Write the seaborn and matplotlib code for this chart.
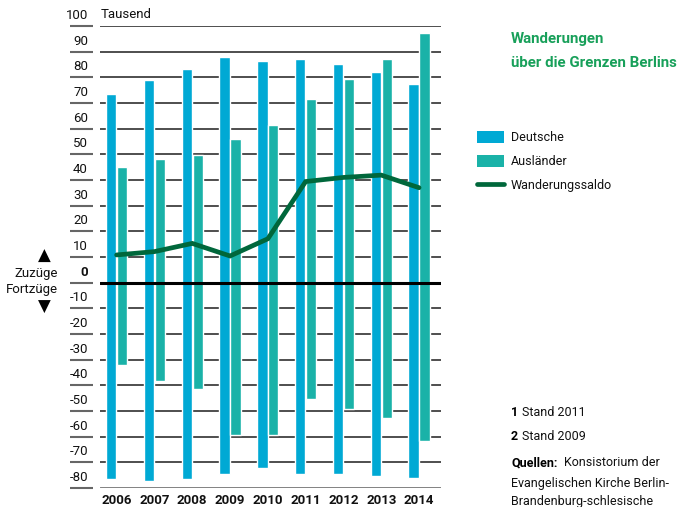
import seaborn as sns
import matplotlib.pyplot as plt
import matplotlib.transforms as mtransforms
from matplotlib.patches import Patch
from matplotlib.lines import Line2D
import numpy as np
import pandas as pd

years = ['2006', '2007', '2008', '2009', '2010', '2011', '2012', '2013', '2014']
zuzuege_deutsche = [73.4, 79.0, 83.2, 87.9, 86.4, 87.1, 85.2, 82.1, 77.4]
zuzuege_auslaender = [45.1, 48.2, 49.6, 56.0, 61.4, 71.6, 79.4, 87.1, 97.3]
fortzuege_deutsche = [-76.5, -77.3, -76.5, -74.5, -72.2, -74.5, -74.5, -75.3, -76.1]
fortzuege_auslaender = [-32.1, -38.3, -41.4, -59.4, -59.4, -45.3, -49.2, -52.7, -61.7]
saldo = [10.8, 12.1, 15.3, 10.4, 17.1, 39.4, 41.0, 41.9, 37.0]
yticks = [100, 90, 80, 70, 60, 50, 40, 30, 20, 10, 0, -10, -20, -30, -40, -50, -60, -70, -80]
series = ['Deutsche', 'Ausländer']

c_de = '#00a9d4'
c_aus = '#1ab2a8'
c_saldo = '#00673b'
c_title = '#18a05a'
c_text = '#111111'

df_pos = pd.DataFrame({'Jahr': years * 2,
                       'Gruppe': ['Deutsche'] * 9 + ['Ausländer'] * 9,
                       'Wert': zuzuege_deutsche + zuzuege_auslaender})
df_neg = pd.DataFrame({'Jahr': years * 2,
                       'Gruppe': ['Deutsche'] * 9 + ['Ausländer'] * 9,
                       'Wert': fortzuege_deutsche + fortzuege_auslaender})

sns.set_style('white')
plt.rcParams['font.family'] = ['Roboto', 'DejaVu Sans']
fs = 9

W, H = 679, 507
fig = plt.figure(figsize=(W / 100, H / 100), dpi=100)
ax = fig.add_axes([100 / W, (H - 488) / H, 341 / W, 462 / H])

def fx(x):
    return x / W

def fy(y):
    return 1 - y / H

pal = {'Deutsche': c_de, 'Ausländer': c_aus}
sns.barplot(data=df_pos, x='Jahr', y='Wert', hue='Gruppe', hue_order=series, order=years,
            palette=pal, width=0.58, gap=0.06, saturation=1, legend=False, ax=ax, zorder=2)
sns.barplot(data=df_neg, x='Jahr', y='Wert', hue='Gruppe', hue_order=series, order=years,
            palette=pal, width=0.58, gap=0.06, saturation=1, legend=False, ax=ax, zorder=2)
sns.lineplot(x=np.arange(len(years)), y=saldo, color=c_saldo, linewidth=3.4, ax=ax, zorder=4)
for l in ax.lines:
    l.set_solid_joinstyle('miter')

ax.set_xlim(-0.44, 8.58)
ax.set_ylim(-80, 100)
for s in ax.spines.values():
    s.set_visible(False)
ax.set_xlabel('')
ax.set_ylabel('')
ax.set_yticks([])
ax.tick_params(axis='x', length=0, pad=4)
ax.set_xticks(range(len(years)))
ax.set_xticklabels(years, fontsize=fs + 0.5, fontweight='bold', color=c_text)

# grid lines and left stubs
trans = mtransforms.blended_transform_factory(ax.transAxes, ax.transData)
for v in yticks:
    if v == 0:
        ax.axhline(0, color='black', lw=2.2, zorder=3)
    elif v == -80:
        ax.axhline(v, color='#777777', lw=2.0, zorder=1)
    else:
        ax.axhline(v, color='#1e1e1e', lw=1.1, zorder=1)
    ax.plot([-30 / 341, -7 / 341], [v, v], transform=trans, color='#666666', lw=1.5,
            clip_on=False, solid_capstyle='butt')
    ax.text(-12 / 341, v + 1.6, str(v), transform=trans, ha='right', va='bottom',
            fontsize=fs + 0.5, color=c_text, fontweight='bold' if v == 0 else 'normal')

fig.text(fx(101), fy(15), 'Tausend', fontsize=fs + 0.5, color=c_text, va='center', ha='left')

# Zuzüge / Fortzüge markers
fig.text(fx(44), fy(256), '\u25B2', fontsize=12, ha='center', va='center', color='black',
         family='DejaVu Sans')
fig.text(fx(36), fy(273), 'Zuzüge', fontsize=fs + 0.5, ha='center', va='center', color=c_text)
fig.text(fx(32), fy(290), 'Fortzüge', fontsize=fs + 0.5, ha='center', va='center', color=c_text)
fig.text(fx(44), fy(307), '\u25BC', fontsize=12, ha='center', va='center', color='black',
         family='DejaVu Sans')

# title
fig.text(fx(511), fy(39), 'Wanderungen', fontsize=10.8, fontweight='bold', color=c_title,
         va='center', ha='left')
fig.text(fx(511), fy(63), 'über die Grenzen Berlins', fontsize=10.8, fontweight='bold',
         color=c_title, va='center', ha='left')

# legend
handles = [Patch(facecolor=c_de, edgecolor='none'),
           Patch(facecolor=c_aus, edgecolor='none'),
           Line2D([0], [0], color=c_saldo, lw=3.4)]
fig.legend(handles, ['Deutsche', 'Ausländer', 'Wanderungssaldo'], loc='upper left',
           bbox_to_anchor=(fx(477), fy(131)), frameon=False, fontsize=fs,
           handlelength=2.15, handleheight=1.1, handletextpad=0.55, labelspacing=0.85,
           borderpad=0, borderaxespad=0, labelcolor=c_text)

# notes
def note(y, bold, rest, gap):
    t = fig.text(fx(511), fy(y), bold, fontsize=fs, fontweight='bold', va='center',
                 color='black')
    ax.annotate(rest, xy=(1, 0.5), xycoords=t, xytext=(gap, 0), textcoords='offset points',
                va='center', ha='left', fontsize=fs, color=c_text, annotation_clip=False)

note(412, '1', 'Stand 2011', 3)
note(437, '2', 'Stand 2009', 3)
note(463, 'Quellen:', 'Konsistorium der', 5)
fig.text(fx(511), fy(483), 'Evangelischen Kirche Berlin-', fontsize=fs, va='center', color=c_text)
fig.text(fx(511), fy(501), 'Brandenburg-schlesische', fontsize=fs, va='center', color=c_text)

fig.savefig('out.png', dpi=100)
